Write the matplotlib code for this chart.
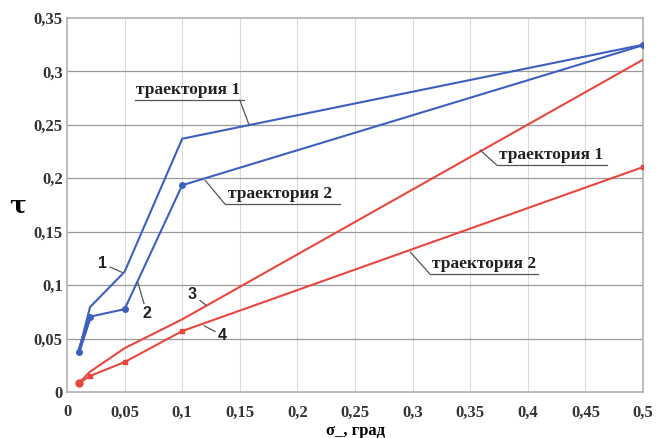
import matplotlib
matplotlib.use("Agg")
import matplotlib.pyplot as plt

# data
x_vals = [0.01, 0.02, 0.05, 0.1, 0.5]
curve1 = [0.037, 0.0795, 0.1125, 0.237, 0.325]   # blue, trajectory 1
curve2 = [0.037, 0.0705, 0.0775, 0.1935, 0.3245]  # blue, trajectory 2
curve3 = [0.008, 0.019, 0.041, 0.068, 0.311]      # red, trajectory 1
curve4 = [0.008, 0.015, 0.028, 0.057, 0.2105]     # red, trajectory 2
xticks = [0, 0.05, 0.1, 0.15, 0.2, 0.25, 0.3, 0.35, 0.4, 0.45, 0.5]
yticks = [0, 0.05, 0.1, 0.15, 0.2, 0.25, 0.3, 0.35]

def fmt(v):
    return ("%g" % v).replace(".", ",")

plt.rcParams['font.family'] = ['Liberation Serif', 'DejaVu Serif']

blue = "#3d5fbf"
red = "#e8473f"
ink = "#222222"
leadc = "#555555"

fig = plt.figure(figsize=(6.57, 4.38), dpi=100)
ax = fig.add_axes([67/657, 46/438, 576/657, 374/438])
ax.set_xlim(0, 0.5)
ax.set_ylim(0, 0.35)

# grid
for xv in xticks[1:-1]:
    ax.axvline(xv, color="#dcdcdc", lw=0.8, zorder=0)
for yv in yticks[1:-1]:
    ax.axhline(yv, color="#9a9a9a", lw=0.9, zorder=0)
for sp in ax.spines.values():
    sp.set_color("#b0b0b0")
    sp.set_linewidth(1.2)

ax.set_xticks(xticks)
ax.set_xticklabels([fmt(v) for v in xticks], fontweight="bold", fontsize=12)
ax.set_yticks(yticks)
ax.set_yticklabels([fmt(v) for v in yticks], fontweight="bold", fontsize=12)
ax.tick_params(axis="x", length=0, pad=9, colors="#333333")
ax.tick_params(axis="y", length=0, pad=3, colors="#333333")

ax.plot(x_vals, curve1, color=blue, lw=1.5, zorder=3)
ax.plot(x_vals, curve2, color=blue, lw=1.5, marker="o", ms=4, zorder=3)
ax.plot(x_vals[:2], curve2[:2], color=blue, lw=2.6, zorder=3)
ax.plot(x_vals, curve3, color=red, lw=1.5, zorder=3)
ax.plot(x_vals, curve4, color=red, lw=1.5, marker="s", ms=3.5, zorder=3)
ax.plot(x_vals[:1], curve4[:1], color=red, marker="o", ms=5, zorder=4)

lead = dict(arrowstyle="-", color=leadc, lw=0.9, shrinkA=0, shrinkB=0)

def callout(text, xy, start, ul_y, ul_x0, ul_x1, tx):
    ax.annotate("", xy=xy, xytext=start, arrowprops=lead, zorder=5)
    ax.plot([ul_x0, ul_x1], [ul_y, ul_y], color=leadc, lw=0.9, zorder=5)
    ax.text(tx, ul_y + 0.002, text, ha="left", va="bottom", fontsize=12.5,
            fontweight="bold", color=ink, zorder=5)

# blue trajectory 1
callout("траектория 1", (0.158, 0.250), (0.150, 0.2733), 0.2733, 0.059, 0.154, 0.060)
# blue trajectory 2
callout("траектория 2", (0.120, 0.198), (0.137, 0.176), 0.176, 0.137, 0.237, 0.140)
# red trajectory 1
callout("траектория 1", (0.3585, 0.2265), (0.373, 0.2124), 0.2124, 0.373, 0.469, 0.375)
# red trajectory 2
callout("траектория 2", (0.298, 0.131), (0.315, 0.1104), 0.1104, 0.315, 0.409, 0.317)

num = dict(fontsize=11.5, fontweight="bold", color=ink, ha="center", va="center",
           family=['Liberation Sans', 'DejaVu Sans'])
ax.annotate("1", xy=(0.0477, 0.112), xytext=(0.031, 0.120), arrowprops=lead, **num)
ax.annotate("2", xy=(0.0615, 0.1025), xytext=(0.0695, 0.073), arrowprops=lead, **num)
ax.annotate("3", xy=(0.121, 0.081), xytext=(0.109, 0.091), arrowprops=lead, **num)
ax.annotate("4", xy=(0.119, 0.062), xytext=(0.135, 0.053), arrowprops=lead, **num)

fig.text(18/657, 1 - 205/438, "τ", fontsize=18, fontweight="bold", ha="center", va="center",
         family=['DejaVu Serif'])
fig.text(355/657, 1 - 431/438, "σ_, град", fontsize=12, fontweight="bold", ha="center", va="center")

fig.savefig("out.png", dpi=100)
